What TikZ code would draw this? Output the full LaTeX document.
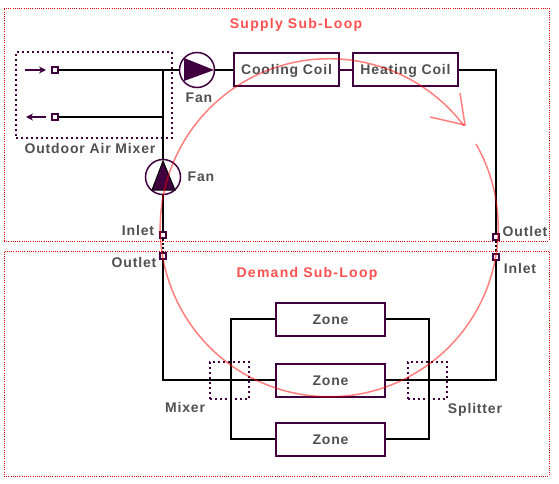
\documentclass[tikz,border=0pt]{standalone}
\usepackage{fontspec}
\setmainfont{Liberation Sans}[LetterSpace=6]
\usepackage{tikz}
\usetikzlibrary{arrows.meta,positioning,shapes.geometric,calc}

\definecolor{plum}{RGB}{64,0,64}
\definecolor{caption}{RGB}{80,80,80}
\definecolor{looptitle}{RGB}{255,80,80}

\begin{document}
\begin{tikzpicture}[
    x=1pt,
    y=-1pt,
    >={Stealth[length=7pt,width=7pt]},
    subloop/.style={
        rectangle,
        draw=red!85!black,
        line width=0.8pt,
        dash pattern=on 1pt off 1.2pt,
        inner sep=0pt
    },
    groupbox/.style={
        rectangle,
        draw=plum,
        line width=2pt,
        dash pattern=on 2pt off 3pt,
        inner sep=0pt
    },
    equip/.style={
        rectangle,
        draw=plum,
        line width=2pt,
        fill=white,
        minimum width=#1,
        minimum height=33pt,
        inner sep=0pt,
        text height=12pt,
        text depth=2pt,
        font=\bfseries\fontsize{14}{16}\selectfont,
        text=caption
    },
    port/.style={
        rectangle,
        draw=plum,
        line width=1.8pt,
        fill=white,
        minimum size=6pt,
        inner sep=0pt
    },
    fan/.style={
        circle,
        draw=plum,
        line width=1.5pt,
        fill=white,
        minimum size=35pt,
        inner sep=0pt
    },
    tag/.style={
        font=\bfseries\fontsize{14}{16}\selectfont,
        text=caption,
        inner sep=0pt
    },
    title/.style={
        font=\bfseries\fontsize{14}{16}\selectfont\addfontfeature{LetterSpace=9},
        text=looptitle,
        inner sep=0pt
    },
    pipe/.style={
        line width=2pt,
        draw=black
    },
    flow/.style={
        line width=1.5pt,
        draw=red,
        opacity=0.5
    }
]
\useasboundingbox (0,0) rectangle (559,484);

% Sub-loop frames
\node[subloop,minimum width=545pt,minimum height=233pt] (supply) at (276.5,124.5) {};
\node[subloop,minimum width=545pt,minimum height=225pt] (demand) at (276.5,363.5) {};
\node[title] (supplytitle) at (296,25) {Supply Sub-Loop};
\node[title] (demandtitle) at (307,274) {Demand Sub-Loop};

% Group frames
\node[groupbox,minimum width=156pt,minimum height=86pt] (oamixer) at (94,95) {};
\node[groupbox,minimum width=39pt,minimum height=37pt] (mixer) at (229.5,380.5) {};
\node[groupbox,minimum width=39pt,minimum height=37pt] (splitter) at (427.5,380.5) {};

% Supply equipment
\node[fan] (supplyfan) at (197,70) {};
\node[fan] (returnfan) at (163,177) {};
\node[equip=105pt] (cooling) at (286.5,70) {Cooling Coil};
\node[equip=105pt] (heating) at (405.5,70) {Heating Coil};

% Ports
\node[port] (oaport) at (55,70) {};
\node[port] (reliefport) at (55,117) {};
\node[port] (supplyinlet) at (163,235) {};
\node[port] (supplyoutlet) at (496,237) {};
\node[port] (demandoutlet) at (163,256) {};
\node[port] (demandinlet) at (496,257) {};

% Zones
\node[equip=109pt] (zonea) at (330.5,319) {Zone};
\node[equip=109pt] (zoneb) at (330.5,380) {Zone};
\node[equip=109pt] (zonec) at (330.5,439) {Zone};

% Free ends and branch points
\coordinate (oastart) at (25,70);
\coordinate (oaend) at (46,70);
\coordinate (reliefstart) at (46,117);
\coordinate (reliefend) at (26,117);
\coordinate (teetop) at (163,70);
\coordinate (teemid) at (163,117);
\coordinate (leftbus) at (231,380);
\coordinate (rightbus) at (429,380);
\coordinate (looptip) at (465,125);
\coordinate (barba) at (460,93);
\coordinate (barbb) at (430,117);

% Supply piping
\draw[pipe] (oaport) -- (teetop) -- (supplyfan);
\draw[pipe] (reliefport) -- (teemid);
\draw[pipe] (teetop) -- (returnfan);
\draw[pipe] (returnfan) -- (supplyinlet);
\draw[pipe] (supplyfan) -- (cooling);
\draw[pipe,draw=plum] (cooling) -- (heating);
\draw[pipe] (heating) -| (supplyoutlet);
\draw[->,line width=1.5pt,plum] (oastart) -- (oaend);
\draw[->,line width=1.5pt,plum] (reliefstart) -- (reliefend);

% Demand piping
\draw[pipe] (demandoutlet) |- (zoneb);
\draw[pipe] (zoneb) -| (demandinlet);
\draw[pipe] (zonea.west) -| (leftbus) |- (zonec.west);
\draw[pipe] (zonea.east) -| (rightbus) |- (zonec.east);

% Air gaps between the loops
\draw[line width=2pt,dash pattern=on 2pt off 2pt] (supplyinlet) -- (demandoutlet);
\draw[line width=2pt,dash pattern=on 2pt off 2pt] (supplyoutlet) -- (demandinlet);

% Redraw ports over the pipes
\node[port] at (supplyinlet) {};
\node[port] at (supplyoutlet) {};
\node[port] at (demandoutlet) {};
\node[port] at (demandinlet) {};
\node[port] at (oaport) {};
\node[port] at (reliefport) {};

% Fan blades
\fill[plum] (184,58) -- (214,70) -- (184,81) -- cycle;
\filldraw[fill=plum,draw=black,line width=1pt] (163,161) -- (175,190) -- (152,190) -- cycle;

% Labels
\node[tag] (supplyfanlabel) at (199,98) {Fan};
\node[tag] (returnfanlabel) at (201,177) {Fan};
\node[tag] (oamixerlabel) at (90,148) {Outdoor Air Mixer};
\node[tag] (inletleft) at (138,230) {Inlet};
\node[tag] (outletleft) at (134,262) {Outlet};
\node[tag] (outletright) at (525,231) {Outlet};
\node[tag] (inletright) at (520,268) {Inlet};
\node[tag] (mixerlabel) at (185,407) {Mixer};
\node[tag] (splitterlabel) at (475,410) {Splitter};

% Loop direction
\draw[flow] (476,144) arc[start angle=-29.7,end angle=322.9,radius=169];
\draw[flow] (barba) -- (looptip) -- (barbb);

\end{tikzpicture}
\end{document}
